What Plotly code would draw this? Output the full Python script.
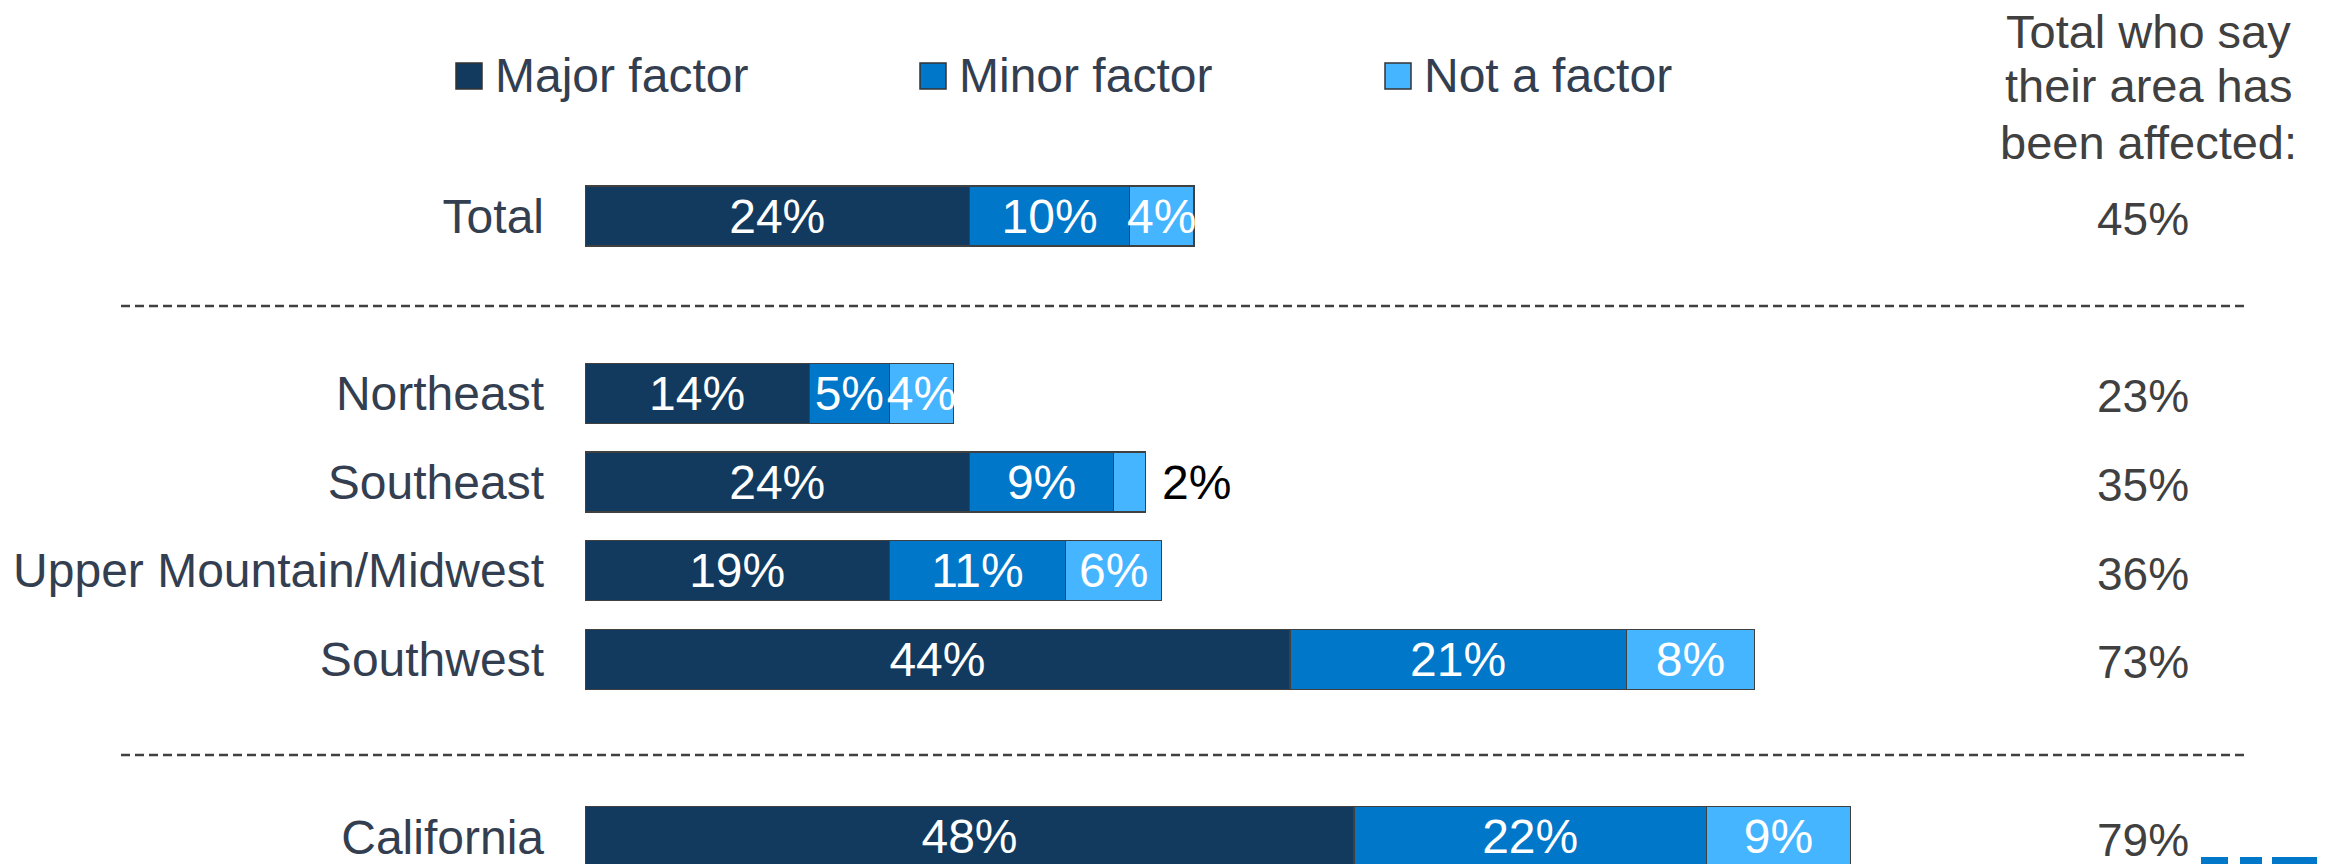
import plotly.graph_objects as go

# ---------------- data ----------------
categories = ["Total", "Northeast", "Southeast", "Upper Mountain/Midwest", "Southwest", "California"]
row_slots = [0, 2, 3, 4, 5, 7]          # slot 1 and slot 6 hold the dashed separators
major = [24, 14, 24, 19, 44, 48]
minor = [10, 5, 9, 11, 21, 22]
not_factor = [4, 4, 2, 6, 8, 9]
affected_total = [45, 23, 35, 36, 73, 79]
series_names = ["Major factor", "Minor factor", "Not a factor"]
series_colors = ["#123A5E", "#0077C8", "#45B5FF"]
header_lines = ["Total who say", "their area has", "been affected:"]

# ---------------- geometry (page pixels, compensating the 8px page margin) ----------------
OFF = 8
W, H = 2325 - OFF, 864 - OFF
L = 585 - OFF                  # left edge of the plot area (bar origin)
PX_PER_PCT = 16.02
SLOT_PX = 88.67
TOP_SLOT_PX = 216.0 - OFF      # pixel centre of slot 0
x_max = (W - L) / PX_PER_PCT
y_top = -TOP_SLOT_PX / SLOT_PX
y_bot = y_top + H / SLOT_PX

def px_x(p):  # page pixel -> paper x
    return (p - OFF - L) / (W - L)

def px_y(p):  # page pixel -> paper y
    return 1 - (p - OFF) / H

FONT = "Liberation Sans, Arial, sans-serif"
LABEL_COLOR = "#333F50"
VALUE_COLOR = "#404040"

fig = go.Figure()
for name, vals, col in zip(series_names, [major, minor, not_factor], series_colors):
    txt, pos = [], []
    for v in vals:
        if v < 3:
            txt.append("\u00a0" + f"{v}%")
            pos.append("outside")
        else:
            txt.append(f"{v}%")
            pos.append("inside")
    fig.add_trace(go.Bar(
        name=name, y=row_slots, x=vals, orientation="h",
        marker=dict(color=col, line=dict(color="#404040", width=1.5)),
        width=0.677,
        text=txt, textposition=pos, textangle=0,
        insidetextanchor="middle", constraintext="none",
        insidetextfont=dict(color="white", size=48, family=FONT),
        outsidetextfont=dict(color="black", size=48, family=FONT),
        cliponaxis=False, showlegend=False, hoverinfo="skip",
    ))

fig.update_layout(
    width=W, height=H, barmode="stack",
    paper_bgcolor="white", plot_bgcolor="white",
    margin=dict(l=L, r=0, t=0, b=0, pad=0),
    showlegend=False,
    xaxis=dict(range=[0, x_max], visible=False, fixedrange=True),
    yaxis=dict(range=[y_bot, y_top], tickmode="array", tickvals=row_slots, ticktext=categories,
               showgrid=False, zeroline=False, showline=False, ticks="",
               ticklabelstandoff=40,
               tickfont=dict(size=48, color=LABEL_COLOR, family=FONT), fixedrange=True),
    font=dict(family=FONT),
)

# dashed separators
for ypx in [306, 755]:
    fig.add_shape(type="line", xref="paper", yref="paper",
                  x0=px_x(121), x1=px_x(2247), y0=px_y(ypx), y1=px_y(ypx),
                  line=dict(color="#404040", width=2.5, dash="9px,5px"))

# manual legend
legend_sq_left = [456, 920, 1385]
for name, col, sx in zip(series_names, series_colors, legend_sq_left):
    fig.add_shape(type="rect", xref="paper", yref="paper",
                  x0=px_x(sx), x1=px_x(sx + 26), y0=px_y(89), y1=px_y(63),
                  fillcolor=col, line=dict(color="#333333", width=1.5))
    fig.add_annotation(xref="paper", yref="paper", x=px_x(sx + 37), y=px_y(75),
                       text=name, showarrow=False, xanchor="left", yanchor="middle",
                       font=dict(size=48, color=LABEL_COLOR, family=FONT))

# right column header and values
for line, ypx in zip(header_lines, [31, 86, 142]):
    fig.add_annotation(xref="paper", yref="paper", x=px_x(2148), y=px_y(ypx),
                       text=line, showarrow=False, xanchor="center", yanchor="middle",
                       font=dict(size=47, color=VALUE_COLOR, family=FONT))
for s, v in zip(row_slots, affected_total):
    fig.add_annotation(xref="paper", yref="y", x=px_x(2143), y=s, yshift=-3,
                       text=f"{v}%", showarrow=False, xanchor="center", yanchor="middle",
                       font=dict(size=46, color=VALUE_COLOR, family=FONT))

# partially visible logo at bottom-right
for x0, x1 in [(2201, 2228), (2240, 2262), (2272, 2321)]:
    fig.add_shape(type="rect", xref="paper", yref="paper",
                  x0=px_x(x0), x1=px_x(x1), y0=px_y(864), y1=px_y(857),
                  fillcolor="#0077C8", line=dict(width=0))

fig.write_html("out.html")
